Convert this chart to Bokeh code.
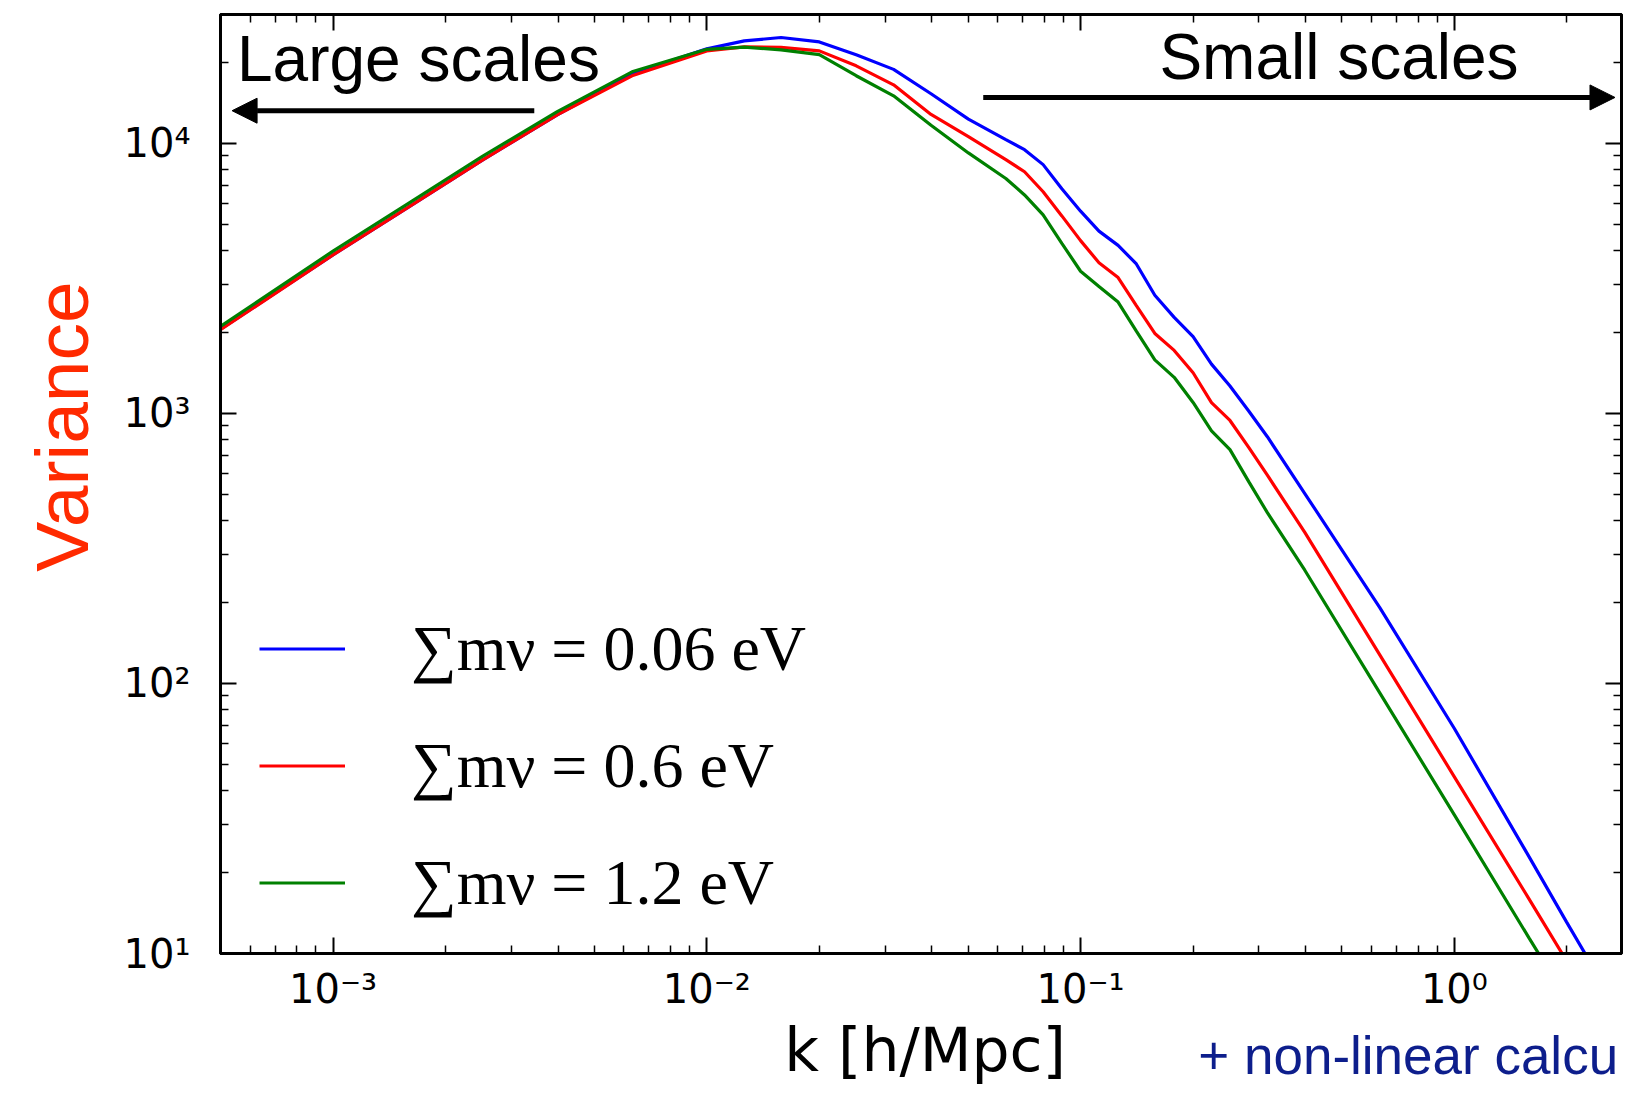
import math
from bokeh.plotting import figure
from bokeh.layouts import column
from bokeh.models import (LogAxis, FixedTicker, Label, Arrow, NormalHead,
                          Legend, LegendItem)
from bokeh.embed import file_html
from bokeh.resources import INLINE

# ---------------- data ----------------
k = [0.0005, 0.001, 0.00158, 0.00251, 0.00398, 0.00631, 0.01, 0.0126, 0.0158,
     0.02, 0.0251, 0.0316, 0.0398, 0.0501, 0.0631, 0.0708, 0.0794, 0.0891,
     0.1, 0.112, 0.126, 0.141, 0.158, 0.178, 0.2, 0.224, 0.251, 0.282, 0.316,
     0.398, 0.631, 1.0, 1.585, 1.995, 2.512]

var_m006 = [2050, 3864, 5764, 8670, 12760, 18090, 22390, 23960, 24660,
            23750, 21270, 18790, 15260, 12290, 10320, 9478, 8341, 6790,
            5609, 4731, 4190, 3576, 2737, 2267, 1925, 1522, 1263, 1019, 819.6,
            505, 191.4, 68.1, 22.8, 13.1, 7.6]

var_m06 = [2040, 3864, 5764, 8670, 12760, 17780, 22000, 22760, 22660,
           22000, 19370, 16470, 12790, 10590, 8706, 7847, 6620, 5387,
           4363, 3613, 3185, 2509, 1977, 1711, 1414, 1097, 941.5, 747, 590.6,
           362.5, 127.8, 45.1, 15.9, 9.4, 5.6]

var_m12 = [2100, 3990, 5960, 8950, 13100, 18400, 22300, 22700, 22200,
           21300, 17800, 15000, 11660, 9215, 7413, 6440, 5430, 4265,
           3360, 2952, 2583, 2016, 1578, 1360, 1098, 862, 734, 558, 429,
           262.6, 92.5, 32.6, 11.4, 6.8, 4.0]

series_labels = ["∑mν = 0.06 eV", "∑mν = 0.6 eV", "∑mν = 1.2 eV"]
series_colors = ["#0000FF", "#FF0000", "#008000"]

x_major = [0.001, 0.01, 0.1, 1]
x_major_labels = ["10⁻³", "10⁻²", "10⁻¹", "10⁰"]
y_major = [10, 100, 1000, 10000]
y_major_labels = ["10¹", "10²", "10³", "10⁴"]
x_minor = [m * 10.0 ** e for e in range(-4, 1) for m in range(2, 10)]
y_minor = [m * 10.0 ** e for e in range(1, 5) for m in range(2, 10)]

W = 1623
H_MAIN = 1014
H_TEXT = 71

# ---------------- main figure ----------------
p = figure(width=W, height=H_MAIN, x_axis_type="log", y_axis_type="log",
           x_range=(5e-4, 2.8), y_range=(10, 3e4),
           output_backend="svg", toolbar_location=None,
           min_border_left=220, min_border_right=2,
           min_border_top=14, min_border_bottom=H_MAIN - 954)
p.grid.visible = False
p.outline_line_color = "black"
p.outline_line_width = 3
p.background_fill_color = "white"
p.border_fill_color = "white"

x_ticker = FixedTicker(ticks=x_major, minor_ticks=x_minor)
y_ticker = FixedTicker(ticks=y_major, minor_ticks=y_minor)


def style_axis(ax):
    ax.axis_line_width = 3
    ax.axis_line_color = "black"
    ax.major_tick_in = 16
    ax.major_tick_out = 0
    ax.minor_tick_in = 8
    ax.minor_tick_out = 0
    ax.major_tick_line_width = 2
    ax.minor_tick_line_width = 1.5
    ax.major_tick_line_color = "black"
    ax.minor_tick_line_color = "black"
    ax.major_label_text_font = "DejaVu Sans"
    ax.major_label_text_font_size = "40px"
    ax.major_label_text_color = "black"


xa = p.xaxis[0]
xa.ticker = x_ticker
style_axis(xa)
xa.major_label_overrides = dict(zip(x_major, x_major_labels))
xa.major_label_standoff = 12

ya = p.yaxis[0]
ya.ticker = y_ticker
style_axis(ya)
ya.major_label_overrides = dict(zip(y_major, y_major_labels))
ya.major_label_standoff = 30

top_ax = LogAxis(ticker=x_ticker)
style_axis(top_ax)
top_ax.major_label_text_font_size = "1px"
top_ax.major_label_text_color = None
top_ax.major_label_standoff = 0
p.add_layout(top_ax, "above")

right_ax = LogAxis(ticker=y_ticker)
style_axis(right_ax)
right_ax.major_label_text_font_size = "1px"
right_ax.major_label_text_color = None
right_ax.major_label_standoff = 0
p.add_layout(right_ax, "right")

# ---------------- curves ----------------
renderers = []
for vals, col in zip([var_m006, var_m06, var_m12], series_colors):
    r = p.line(k, vals, line_color=col, line_width=3.2)
    renderers.append(r)

legend = Legend(items=[LegendItem(label=lab, renderers=[r])
                       for lab, r in zip(series_labels, renderers)],
                location=(39, 12), padding=0, margin=0, spacing=0,
                glyph_width=86, glyph_height=117, label_height=117,
                label_standoff=66, label_text_font="Liberation Serif",
                label_text_font_size="64px", label_text_color="black",
                border_line_alpha=0, background_fill_alpha=0)
p.add_layout(legend)

# ---------------- annotations ----------------
p.add_layout(Arrow(end=NormalHead(size=25, fill_color="black", line_color="black"),
                   x_start=0.003455, y_start=13210, x_end=0.000537, y_end=13210,
                   line_color="black", line_width=5))
p.add_layout(Arrow(end=NormalHead(size=25, fill_color="black", line_color="black"),
                   x_start=0.0549, y_start=14790, x_end=2.69, y_end=14790,
                   line_color="black", line_width=5))

p.add_layout(Label(x=5.535e-4, y=20600, text="Large scales",
                   text_font="Liberation Sans", text_font_size="64px",
                   text_color="black", text_align="left",
                   text_baseline="middle"))
p.add_layout(Label(x=0.1625, y=20900, text="Small scales",
                   text_font="Liberation Sans", text_font_size="64px",
                   text_color="black", text_align="left",
                   text_baseline="middle"))

# y title sits in the left side panel (not clipped by the frame)
p.add_layout(Label(x=1.88e-4, y=894.6, text="Variance", angle=math.pi / 2,
                   text_font="Liberation Sans", text_font_size="75px",
                   text_color="#FF2A00", text_align="center",
                   text_baseline="middle"), "left")

# ---------------- strip below the plot for the bottom texts ----------------
t = figure(width=W, height=H_TEXT, x_axis_type="log", x_range=p.x_range,
           y_range=(0, H_TEXT), x_axis_location=None, y_axis_location=None,
           output_backend="svg", toolbar_location=None,
           min_border=0, min_border_left=220, min_border_right=2,
           min_border_top=0, min_border_bottom=0)
t.grid.visible = False
t.outline_line_color = None
t.background_fill_color = "white"
t.border_fill_color = "white"

t.add_layout(Label(x=0.03836, y=35.8, text="k [h/Mpc]",
                   text_font="DejaVu Sans", text_font_size="60px",
                   text_color="black", text_align="center",
                   text_baseline="middle"))
t.add_layout(Label(x=0.2065, y=30.4, text="+ non-linear calcu",
                   text_font="Liberation Sans", text_font_size="53px",
                   text_color="#0D1E8C", text_align="left",
                   text_baseline="middle"))

layout = column(p, t, spacing=0)
open("out.html", "w").write(file_html(layout, INLINE))
